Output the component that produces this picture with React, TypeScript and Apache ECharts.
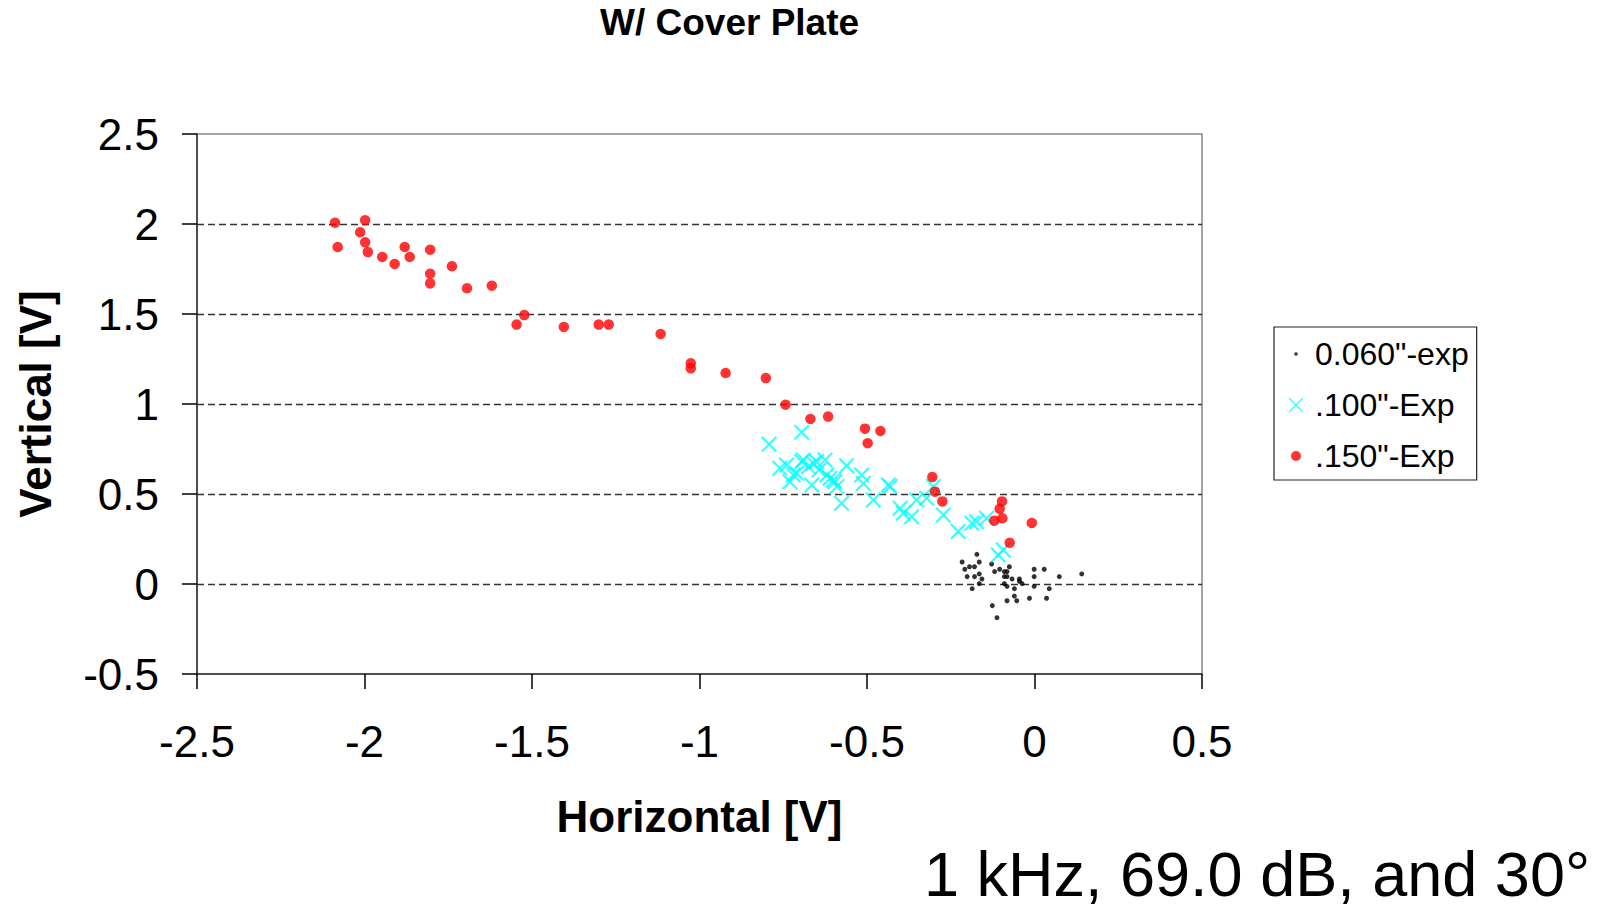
import React, { useEffect, useRef } from "react";
import * as echarts from "echarts";

const FONT = '"Liberation Sans", Arial, Helvetica, sans-serif';

const chartTitle = "W/ Cover Plate";
const xAxisTitle = "Horizontal [V]";
const yAxisTitle = "Vertical [V]";
const annotation = "1 kHz, 69.0 dB, and 30°";
const seriesNames = ['0.060"-exp', '.100"-Exp', '.150"-Exp'];

// 0.060"-exp (black dots)
const exp060: [number, number][] = [
  [-0.172, 0.165], [-0.216, 0.122], [-0.165, 0.122], [-0.194, 0.096], [-0.179, 0.096],
  [-0.208, 0.082], [-0.165, 0.056], [-0.201, 0.041], [-0.179, 0.041], [-0.157, 0.028],
  [-0.165, 0.002], [-0.186, -0.026], [-0.128, 0.111], [-0.104, 0.082], [-0.119, 0.069],
  [-0.09, 0.069], [-0.082, 0.069], [-0.075, 0.096], [-0.09, 0.041], [-0.082, 0.041],
  [-0.067, 0.028], [-0.09, 0.002], [-0.082, -0.013], [-0.045, 0.028], [-0.045, 0.015],
  [-0.037, 0.002], [-0.06, -0.026], [-0.06, -0.067], [-0.053, -0.093], [-0.082, -0.093],
  [-0.126, -0.12], [-0.112, -0.187], [-0.001, 0.082], [0.029, 0.082], [-0.001, 0.041],
  [-0.001, -0.013], [-0.015, -0.079], [0.036, -0.079], [0.044, -0.026], [0.074, 0.041],
  [0.141, 0.056],
];

// .100"-Exp (cyan crosses)
const exp100: [number, number][] = [
  [-0.792, 0.776], [-0.695, 0.843], [-0.76, 0.643], [-0.74, 0.661], [-0.72, 0.606],
  [-0.73, 0.568], [-0.695, 0.679], [-0.675, 0.652], [-0.665, 0.55], [-0.65, 0.679],
  [-0.643, 0.633], [-0.625, 0.689], [-0.62, 0.606], [-0.61, 0.587], [-0.596, 0.568],
  [-0.59, 0.541], [-0.576, 0.448], [-0.561, 0.657], [-0.516, 0.606], [-0.511, 0.559],
  [-0.481, 0.467], [-0.436, 0.55], [-0.431, 0.541], [-0.401, 0.421], [-0.392, 0.393],
  [-0.367, 0.374], [-0.352, 0.467], [-0.322, 0.476], [-0.302, 0.541], [-0.272, 0.383],
  [-0.228, 0.291], [-0.187, 0.337], [-0.173, 0.346], [-0.143, 0.365], [-0.108, 0.161],
  [-0.093, 0.189], [-0.71, 0.615], [-0.69, 0.689], [-0.66, 0.671], [-0.6, 0.578],
];

// .150"-Exp (red dots)
const exp150: [number, number][] = [
  [-2.088, 2.007], [-2.08, 1.872], [-1.998, 2.021], [-2.013, 1.954], [-1.998, 1.898],
  [-1.99, 1.844], [-1.947, 1.817], [-1.91, 1.778], [-1.88, 1.872], [-1.865, 1.817],
  [-1.804, 1.857], [-1.804, 1.724], [-1.804, 1.67], [-1.739, 1.765], [-1.694, 1.643],
  [-1.62, 1.657], [-1.523, 1.494], [-1.546, 1.441], [-1.405, 1.428], [-1.301, 1.441],
  [-1.271, 1.441], [-1.116, 1.389], [-1.026, 1.226], [-1.026, 1.198], [-0.922, 1.172],
  [-0.802, 1.144], [-0.743, 0.996], [-0.669, 0.917], [-0.616, 0.93], [-0.506, 0.863],
  [-0.46, 0.85], [-0.498, 0.782], [-0.305, 0.594], [-0.297, 0.513], [-0.275, 0.459],
  [-0.097, 0.459], [-0.104, 0.418], [-0.096, 0.365], [-0.12, 0.352], [-0.008, 0.339],
  [-0.074, 0.229],
];

const X_SYMBOL =
  "path://M1.5,0L8,6.5L14.5,0L16,1.5L9.5,8L16,14.5L14.5,16L8,9.5L1.5,16L0,14.5L6.5,8L0,1.5Z";
const ICON_BLACK = "path://M0,0M22,16M6.2,8a1.8,1.8 0 1,0 3.6,0a1.8,1.8 0 1,0 -3.6,0z";
const ICON_CYAN =
  "path://M0,0M22,16M1.5,0.5L8,7L14.5,0.5L15.5,1.5L9,8L15.5,14.5L14.5,15.5L8,9L1.5,15.5L0.5,14.5L7,8L0.5,1.5Z";
const ICON_RED = "path://M0,0M22,16M3,8a5,5 0 1,0 10,0a5,5 0 1,0 -10,0z";

export default function App() {
  const ref = useRef<HTMLDivElement>(null);
  useEffect(() => {
    document.body.style.margin = "0";
    document.body.style.overflow = "hidden";
    if (!ref.current) return;
    const chart = echarts.init(ref.current, null, { renderer: "svg" });
    chart.setOption({
      animation: false,
      backgroundColor: "#fff",
      title: {
        text: chartTitle,
        left: 600,
        top: 4,
        padding: 0,
        textStyle: { fontSize: 37, fontWeight: "bold", fontFamily: FONT, color: "#000" },
      },
      grid: {
        left: 197,
        top: 134,
        width: 1005,
        height: 540,
        show: true,
        borderColor: "#888",
        borderWidth: 1.5,
        containLabel: false,
        outerBoundsMode: "none",
      },
      legend: {
        orient: "vertical",
        left: 1274,
        top: 327,
        padding: [11, 8, 8, 14],
        itemGap: 19,
        itemWidth: 22,
        itemHeight: 16,
        borderColor: "#222",
        borderWidth: 1.2,
        textStyle: { fontSize: 32, fontFamily: FONT, color: "#000", lineHeight: 30 },
        data: [
          { name: seriesNames[0], icon: ICON_BLACK },
          { name: seriesNames[1], icon: ICON_CYAN },
          { name: seriesNames[2], icon: ICON_RED },
        ],
      },
      xAxis: {
        type: "value",
        min: -2.5,
        max: 0.5,
        interval: 0.5,
        name: xAxisTitle,
        nameLocation: "middle",
        nameGap: 120,
        nameTextStyle: { fontSize: 44, fontWeight: "bold", fontFamily: FONT, color: "#000" },
        axisLine: { show: true, onZero: false, lineStyle: { color: "#333", width: 1.5 } },
        axisTick: { show: true, inside: false, length: 15, lineStyle: { color: "#000", width: 1.5 } },
        axisLabel: { fontSize: 44, fontFamily: FONT, color: "#000", margin: 45, showMinLabel: true, showMaxLabel: true },
        splitLine: { show: false },
      },
      yAxis: {
        type: "value",
        min: -0.5,
        max: 2.5,
        interval: 0.5,
        name: yAxisTitle,
        nameLocation: "middle",
        nameGap: 140,
        nameTextStyle: { fontSize: 44, fontWeight: "bold", fontFamily: FONT, color: "#000" },
        axisLine: { show: true, onZero: false, lineStyle: { color: "#333", width: 1.5 } },
        axisTick: { show: true, inside: false, length: 15, lineStyle: { color: "#000", width: 1.5 } },
        axisLabel: { fontSize: 44, fontFamily: FONT, color: "#000", margin: 38, showMinLabel: true, showMaxLabel: true },
        splitLine: {
          show: true,
          showMinLine: false,
          showMaxLine: false,
          lineStyle: { type: [7, 4], color: "#333", width: 1.3 },
        },
      },
      graphic: [
        {
          type: "text",
          x: 924,
          y: 874,
          style: {
            text: annotation,
            font: '63px "Liberation Sans", Arial, sans-serif',
            fontSize: 63,
            fontFamily: FONT,
            fill: "#000",
            textAlign: "left",
            verticalAlign: "middle",
            textVerticalAlign: "middle",
          },
        },
      ],
      series: [
        {
          name: seriesNames[0],
          type: "scatter",
          data: exp060,
          symbol: "circle",
          symbolSize: 5,
          itemStyle: { color: "#000" },
        },
        {
          name: seriesNames[1],
          type: "scatter",
          data: exp100,
          symbol: X_SYMBOL,
          symbolSize: 16,
          itemStyle: { color: "#00FFFF" },
        },
        {
          name: seriesNames[2],
          type: "scatter",
          data: exp150,
          symbol: "circle",
          symbolSize: 10.5,
          itemStyle: { color: "#FF0000" },
        },
      ],
    });
    return () => chart.dispose();
  }, []);
  return <div ref={ref} style={{ width: 1610, height: 909 }} />;
}
